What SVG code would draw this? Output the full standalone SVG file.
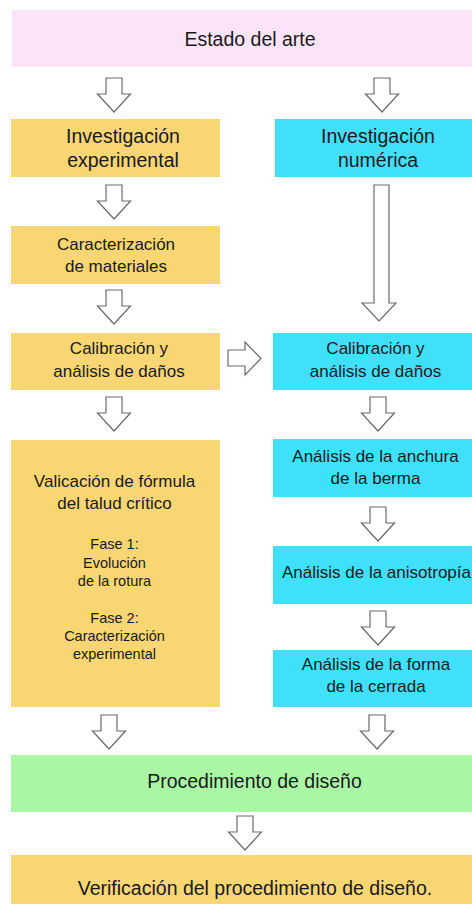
<svg xmlns="http://www.w3.org/2000/svg" width="472" height="904" viewBox="0 0 472 904">
<defs>
<style>
.t{font-family:"Liberation Sans",Arial,sans-serif;fill:#1a1a1a;text-anchor:middle}
.big{font-size:19.5px}
.med{font-size:17px}
.sm{font-size:14.5px}
.ar{fill:#fff;stroke:#6a6a6a;stroke-width:1.2;stroke-linejoin:miter}
.or{fill:#f8d673}
.cy{fill:#40e0fb}
</style>
<path id="dn" d="M-8,0 H8 V16 H16.5 L0,34 L-16.5,16 H-8 Z"/>
</defs>
<rect width="472" height="904" fill="#fff"/>
<g id="estado"><rect x="12" y="10" width="460" height="57" fill="#fbe4f9"/><text class="t big" x="250" y="46">Estado del arte</text></g>
<g id="inv-exp"><rect class="or" x="11" y="119" width="209" height="58"/><text class="t big" x="123" y="143">Investigación</text><text class="t big" x="123" y="167">experimental</text></g>
<g id="inv-num"><rect class="cy" x="275" y="119" width="197" height="58"/><text class="t big" x="378" y="143">Investigación</text><text class="t big" x="378" y="167">numérica</text></g>
<g id="caract"><rect class="or" x="11" y="226" width="209" height="58"/><text class="t med" x="116" y="250">Caracterización</text><text class="t med" x="116" y="272">de materiales</text></g>
<g id="calib-exp"><rect class="or" x="11" y="333" width="209" height="57"/><text class="t med" x="119" y="354">Calibración y</text><text class="t med" x="119" y="377">análisis de daños</text></g>
<g id="calib-num"><rect class="cy" x="273" y="333" width="199" height="57"/><text class="t med" x="375.5" y="354">Calibración y</text><text class="t med" x="375.5" y="377">análisis de daños</text></g>
<g id="valid"><rect class="or" x="11" y="440" width="209" height="267"/>
<text class="t med" x="114.5" y="487">Valicación de fórmula</text><text class="t med" x="114.5" y="509">del talud crítico</text>
<text class="t sm" x="114.5" y="549">Fase 1:</text><text class="t sm" x="114.5" y="568">Evolución</text><text class="t sm" x="114.5" y="586">de la rotura</text>
<text class="t sm" x="114.5" y="623">Fase 2:</text><text class="t sm" x="114.5" y="641">Caracterización</text><text class="t sm" x="114.5" y="659">experimental</text></g>
<g id="anchura"><rect class="cy" x="273" y="439" width="199" height="58"/><text class="t med" x="375.5" y="462">Análisis de la anchura</text><text class="t med" x="375.5" y="484">de la berma</text></g>
<g id="aniso"><rect class="cy" x="273" y="546" width="199" height="58"/><text class="t med" x="376.5" y="578">Análisis de la anisotropía</text></g>
<g id="forma"><rect class="cy" x="273" y="650" width="199" height="57"/><text class="t med" x="376" y="670">Análisis de la forma</text><text class="t med" x="376" y="692">de la cerrada</text></g>
<g id="proc"><rect x="11" y="755" width="461" height="57" fill="#a9f7a5"/><text class="t big" x="254.5" y="788">Procedimiento de diseño</text></g>
<g id="verif"><rect class="or" x="11" y="855" width="461" height="49"/><text class="t big" x="255" y="895">Verificación del procedimiento de diseño.</text></g>
<g id="connectors">
<use href="#dn" class="ar" x="114" y="78"/>
<use href="#dn" class="ar" x="382" y="78"/>
<use href="#dn" class="ar" x="114" y="185"/>
<path class="ar" d="M374,185 H389 V303 H396 L379,321 L362,303 H374 Z"/>
<use href="#dn" class="ar" x="114" y="290"/>
<path class="ar" d="M228,350 H245 V342 L261,358.5 L245,375 V366 H228 Z"/>
<use href="#dn" class="ar" x="114" y="397"/>
<use href="#dn" class="ar" x="378" y="397"/>
<use href="#dn" class="ar" x="378" y="507"/>
<use href="#dn" class="ar" x="378" y="611"/>
<use href="#dn" class="ar" x="109" y="715"/>
<use href="#dn" class="ar" x="377" y="715"/>
<use href="#dn" class="ar" x="245" y="816"/>
</g>
</svg>
